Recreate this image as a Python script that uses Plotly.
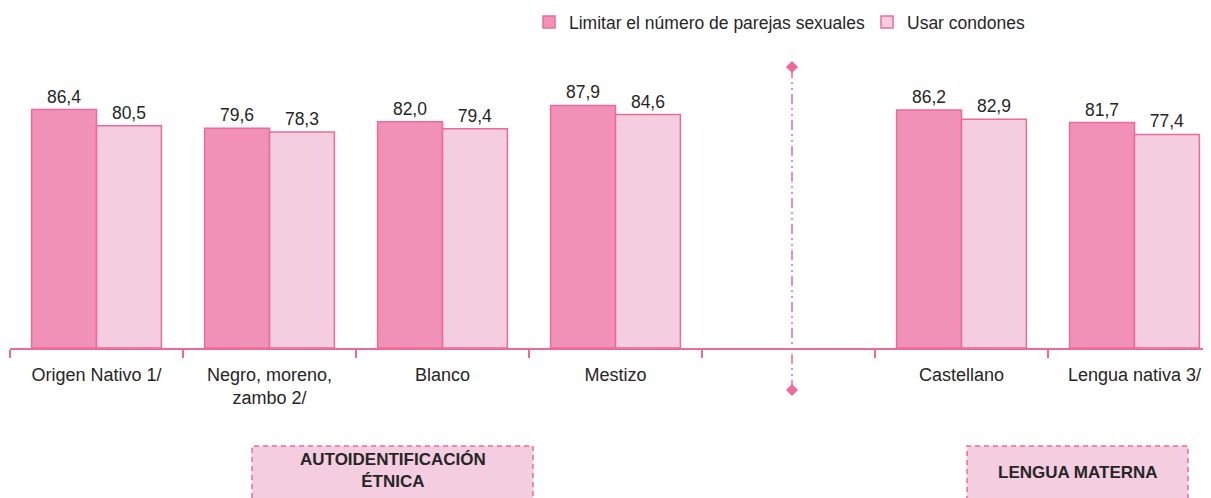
import plotly.graph_objects as go

categories = ["Origen Nativo 1/", "Negro, moreno,<br>zambo 2/", "Blanco", "Mestizo", " ", "Castellano", "Lengua nativa 3/"]
limitar = [86.4, 79.6, 82.0, 87.9, None, 86.2, 81.7]
usar = [80.5, 78.3, 79.4, 84.6, None, 82.9, 77.4]
series_names = ["Limitar el número de parejas sexuales", "Usar condones"]
group_labels = ["AUTOIDENTIFICACIÓN<br>ÉTNICA", "LENGUA MATERNA"]

FONT = "Liberation Sans, Arial, sans-serif"
PINK_DARK = "#EE6A9A"
FILL1 = "#F291B7"
FILL2 = "#F4CDE0"
TXT = "#262626"

def fmt(v):
    return "" if v is None else f"{v:.1f}".replace(".", ",")

OFF = 8  # page body margin
W, H = 1211 - OFF, 498 - OFF
ML, MR, MT = 10 - OFF, 0, 0
AXIS_Y = 348 - OFF
MB = H - AXIS_Y
plot_w = W - ML - MR
plot_h = H - MT - MB
cat_px = 173.0
px_per_unit = 2.76

def py(pix):  # screen pixel y -> paper y
    return (AXIS_Y - (pix - OFF)) / plot_h

def px(pix):  # screen pixel x -> paper x
    return (pix - OFF - ML) / plot_w

fig = go.Figure()
for vals, name, fill in [(limitar, series_names[0], FILL1), (usar, series_names[1], FILL2)]:
    fig.add_trace(go.Bar(
        x=categories, y=vals, name=name,
        marker=dict(color=fill, line=dict(color=PINK_DARK, width=1.5)),
        text=[fmt(v) for v in vals], textposition="outside",
        textfont=dict(family=FONT, size=17.5, color=TXT), cliponaxis=False,
    ))

sep_x = (792 - OFF - ML) / cat_px - 0.5
y_top, y_bot = 67, 390
fig.add_shape(type="line", xref="x", yref="paper", x0=sep_x, x1=sep_x,
              y0=py(y_bot), y1=py(y_top),
              line=dict(color=PINK_DARK, width=1.5, dash="10px,4px,2px,4px,2px,4px"))
for yy in (y_top, y_bot):
    fig.add_shape(type="path", xref="x", yref="paper", xsizemode="pixel", ysizemode="pixel",
                  xanchor=sep_x, yanchor=py(yy), path="M 0 6 L 6 0 L 0 -6 L -6 0 Z",
                  fillcolor=PINK_DARK, line=dict(color=PINK_DARK, width=0))

# group boxes
boxes = [(252, 533, 470.5), (967, 1188, 472)]
for (x0, x1, yc), lab in zip(boxes, group_labels):
    fig.add_shape(type="rect", xref="paper", yref="paper",
                  x0=px(x0), x1=px(x1), y0=py(530), y1=py(446),
                  fillcolor=FILL2, line=dict(color=PINK_DARK, width=1.5, dash="5px,4px"),
                  layer="below")
    fig.add_annotation(xref="paper", yref="paper", x=px((x0 + x1) / 2), y=py(yc),
                       text=f"<b>{lab}</b>", showarrow=False,
                       font=dict(family=FONT, size=17, color=TXT),
                       xanchor="center", yanchor="middle")

fig.update_layout(
    width=W, height=H,
    margin=dict(l=ML, r=MR, t=MT, b=MB, autoexpand=False),
    paper_bgcolor="white", plot_bgcolor="white",
    barmode="group", bargap=0.25, bargroupgap=0,
    font=dict(family=FONT, size=18, color=TXT),
    showlegend=True,
    legend=dict(orientation="h", x=px(529), y=py(22), xanchor="left", yanchor="middle",
                font=dict(family=FONT, size=17.5, color=TXT), itemwidth=30,
                entrywidth=293, entrywidthmode="pixels",
                traceorder="normal", bgcolor="rgba(0,0,0,0)"),
    xaxis=dict(type="category", range=[-0.5, -0.5 + plot_w / cat_px],
               showline=True, linecolor=PINK_DARK, linewidth=2,
               ticks="outside", tickson="boundaries", ticklen=8, tickcolor=PINK_DARK, tickwidth=1.5,
               ticklabelstandoff=9,
               tickfont=dict(family=FONT, size=18, color=TXT), showgrid=False, zeroline=False,
               fixedrange=True),
    yaxis=dict(range=[0, plot_h / px_per_unit], visible=False, showgrid=False, zeroline=False),
)

fig.write_html("out.html")
